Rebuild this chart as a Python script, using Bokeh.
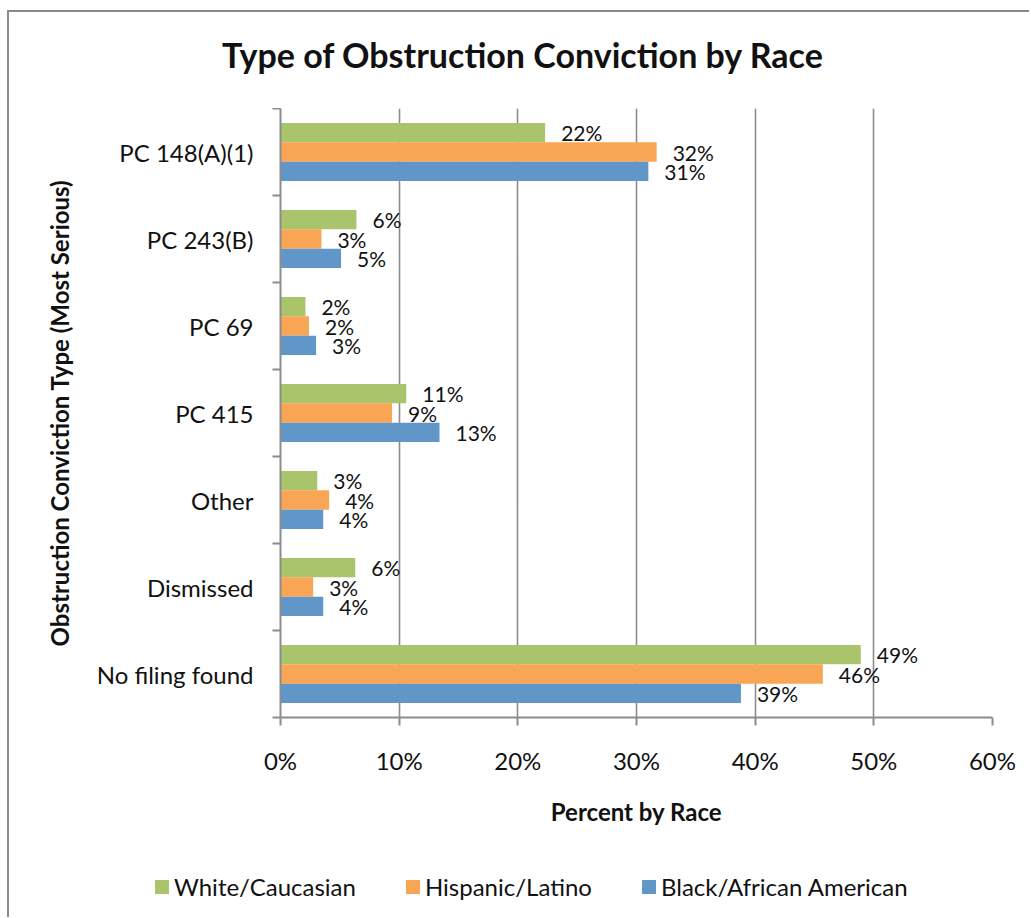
from bokeh.plotting import figure
from bokeh.layouts import column
from bokeh.models import (ColumnDataSource, Range1d, FixedTicker, PrintfTickFormatter, Div)
from bokeh.core.properties import value
from bokeh.transform import dodge
from bokeh.embed import file_html
from bokeh.resources import INLINE

title_text = "Type of Obstruction Conviction by Race"
categories = ["PC 148(A)(1)", "PC 243(B)", "PC 69", "PC 415", "Other", "Dismissed", "No filing found"]
white = [22.3, 6.4, 2.1, 10.6, 3.1, 6.3, 48.9]
hispanic = [31.7, 3.45, 2.4, 9.4, 4.1, 2.75, 45.7]
black = [31.0, 5.1, 3.0, 13.4, 3.6, 3.6, 38.8]
series_names = ["White/Caucasian", "Hispanic/Latino", "Black/African American"]
x_ticks = [0, 10, 20, 30, 40, 50, 60]

colors = ["#AAC46C", "#F8A656", "#6096C8"]
FONT = "Lato"
TXT = "#111111"
GRAY = "#8c8c8c"
W = 1020

# ---------------- header (title) ----------------
head = Div(text=(f'<div style="padding-top:23px;padding-left:213px;font-family:{FONT};'
                 f'font-weight:bold;font-size:34px;line-height:40px;color:{TXT};'
                 f'white-space:nowrap">{title_text}</div>'),
           width=W, height=96, margin=0)

# ---------------- main chart ----------------
pos = [i + 0.5 for i in range(len(categories))]
src = ColumnDataSource(dict(
    y=pos, white=white, hispanic=hispanic, black=black,
    wl=[f"{round(v)}%" for v in white],
    hl=[f"{round(v)}%" for v in hispanic],
    bl=[f"{round(v)}%" for v in black],
))

p = figure(frame_width=712, frame_height=609, output_backend="svg", toolbar_location=None,
           x_range=Range1d(0, 60), y_range=Range1d(len(categories), 0),
           min_border_left=271, min_border_right=37, min_border_top=0, min_border_bottom=140)
p.outline_line_color = None

bh = 0.222
offsets = [-bh, 0.0, bh]
cols = ["white", "hispanic", "black"]
labs = ["wl", "hl", "bl"]
for c, off, col, lab in zip(cols, offsets, colors, labs):
    p.hbar(y=dodge("y", off, range=p.y_range), left=0, right=c, height=bh,
           source=src, fill_color=col, line_color=None)
    p.text(x=c, y=dodge("y", off, range=p.y_range), text=lab, source=src,
           x_offset=16, text_align="left", text_baseline="middle",
           text_font=value(FONT), text_font_size="21px", text_color=TXT)

p.xaxis.ticker = FixedTicker(ticks=x_ticks)
p.xaxis.formatter = PrintfTickFormatter(format="%d%%")
p.xaxis.major_tick_out = 8
p.xaxis.major_tick_in = 0
p.xaxis.minor_tick_line_color = None
p.xaxis.axis_line_color = GRAY
p.xaxis.axis_line_width = 2
p.xaxis.major_tick_line_color = GRAY
p.xaxis.major_tick_line_width = 2
p.xaxis.major_label_text_font = FONT
p.xaxis.major_label_text_font_size = "24px"
p.xaxis.major_label_text_color = TXT
p.xaxis.major_label_standoff = 20
p.xaxis.axis_label = "Percent by Race"
p.xaxis.axis_label_text_font = FONT
p.xaxis.axis_label_text_font_style = "bold"
p.xaxis.axis_label_text_font_size = "24px"
p.xaxis.axis_label_text_color = TXT
p.xaxis.axis_label_standoff = 19

p.yaxis.ticker = FixedTicker(ticks=pos, minor_ticks=list(range(len(categories) + 1)))
p.yaxis.major_label_overrides = {pv: c for pv, c in zip(pos, categories)}
p.yaxis.major_tick_line_color = None
p.yaxis.major_tick_out = 0
p.yaxis.major_tick_in = 0
p.yaxis.minor_tick_out = 8
p.yaxis.minor_tick_in = 0
p.yaxis.minor_tick_line_color = GRAY
p.yaxis.minor_tick_line_width = 2
p.yaxis.axis_line_color = GRAY
p.yaxis.axis_line_width = 2
p.yaxis.major_label_text_font = FONT
p.yaxis.major_label_text_font_size = "24px"
p.yaxis.major_label_text_color = TXT
p.yaxis.major_label_standoff = 19
p.yaxis.axis_label = "Obstruction Conviction Type (Most Serious)"
p.yaxis.axis_label_text_font = FONT
p.yaxis.axis_label_text_font_style = "bold"
p.yaxis.axis_label_text_font_size = "24px"
p.yaxis.axis_label_text_color = TXT
p.yaxis.axis_label_standoff = 20

p.xgrid.ticker = FixedTicker(ticks=x_ticks)
p.xgrid.grid_line_color = GRAY
p.xgrid.grid_line_width = 1.6
p.ygrid.grid_line_color = None

# ---------------- legend strip ----------------
items_html = "".join(
    f'<span style="display:inline-block;width:14px;height:14px;background:{col};'
    f'margin-right:5px;vertical-align:middle"></span>'
    f'<span style="vertical-align:middle;margin-right:{50 if i < len(series_names) - 1 else 0}px">{name}</span>'
    for i, (name, col) in enumerate(zip(series_names, colors))
)
leg = Div(text=(f'<div style="padding-top:12px;padding-left:146px;font-family:{FONT};'
                f'font-size:24px;line-height:29px;color:{TXT};white-space:nowrap">{items_html}</div>'),
          width=W, height=60, margin=0)

layout = column(head, p, leg, spacing=0)
layout.styles = {"margin-left": "7px", "margin-top": "10px",
                 "border-top": "2px solid #8a8a8a", "border-left": "2px solid #8a8a8a"}

open("out.html", "w").write(file_html(layout, INLINE))
